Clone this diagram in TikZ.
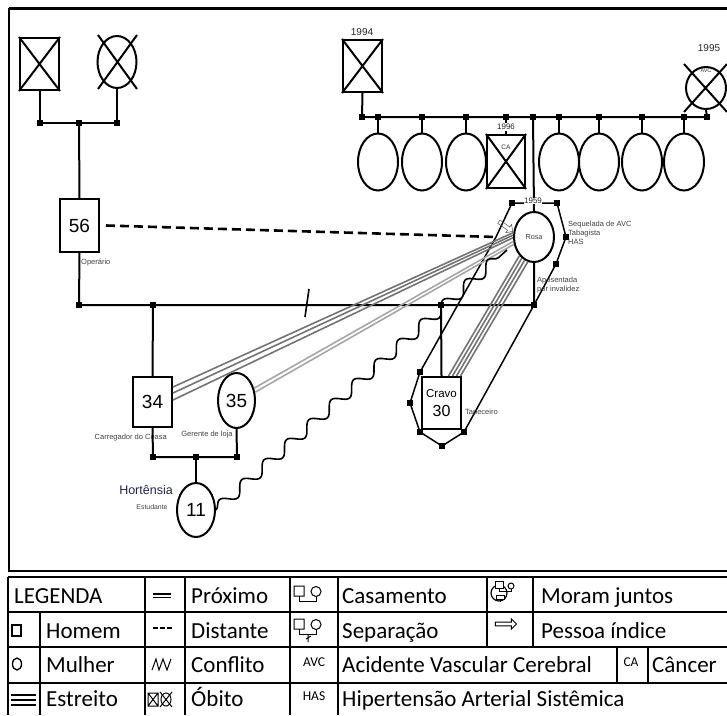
\documentclass[tikz,border=0pt]{standalone}
\usepackage{fontspec}
\setmainfont{Carlito}
\newfontfamily\arialf{Liberation Sans}
\usetikzlibrary{shapes.geometric,shapes.arrows,decorations.pathmorphing}
\begin{document}
\begin{tikzpicture}[x=1pt,y=-1pt,
  ln/.style={line width=2pt},
  male/.style={draw,line width=2pt,minimum width=39pt,minimum height=52pt,inner sep=0pt,font=\arialf\fontsize{19}{19}\selectfont},
  female/.style={draw,ellipse,line width=2pt,minimum width=39pt,minimum height=55pt,inner sep=0pt,font=\arialf\fontsize{19}{19}\selectfont},
  jdot/.style={fill,minimum size=6pt,inner sep=0pt},
  vdot/.style={fill,minimum size=6pt,inner sep=0pt},
  small/.style={font=\arialf\fontsize{7.5}{9}\selectfont,text=black!75,inner sep=0pt},
  yr/.style={font=\arialf\fontsize{10}{10}\selectfont,text=black!85,inner sep=1pt},
  legtxt/.style={font=\fontsize{23}{23}\selectfont,anchor=base west,inner sep=0pt},
  legsm/.style={font=\fontsize{13.5}{13.5}\selectfont,inner sep=0pt},
  tline/.style={line width=1.2pt},
  closed/.style={line width=1.6pt,draw=black!55},
  closel/.style={line width=1.6pt,draw=black!35},
  house/.style={line width=1.5pt},
]
\useasboundingbox (0,0) rectangle (727,715);
% frame
\draw[line width=3pt] (9,8) -- (727,8);
\draw[line width=1.8pt] (9,8) -- (9,571) -- (727,571);

% ---------- left grandparents
\node[male] (gf1) at (39.5,64) {};
\draw[ln] (gf1.north west) -- (gf1.south east) (gf1.north east) -- (gf1.south west);
\node[female,minimum height=52pt] (gm1) at (117,62) {};
\draw[ln] ([shift={(-19,-27)}]gm1.center) -- ([shift={(20,27)}]gm1.center)
          ([shift={(20,-27)}]gm1.center) -- ([shift={(-19,27)}]gm1.center);
\node[jdot] (m1a) at (39.5,123) {};
\node[jdot] (m1c) at (79,123) {};
\node[jdot] (m1b) at (117,123) {};
\draw[ln] (gf1.south) -- (m1a.center) -- (m1b.center) -- (gm1.south);

\node[male,minimum height=53pt] (p56) at (79.5,225.5) {56};
\draw[ln] (m1c.center) -- (p56.north);
\node[small,anchor=west] (l56) at (81,263) {Operário};

% ---------- right grandparents
\node[male] (gf2) at (362.5,66) {};
\draw[ln] (gf2.north west) -- (gf2.south east) (gf2.north east) -- (gf2.south west);
\node[yr] (y1994) at (362,32) {1994};
\node[female,minimum width=40pt,minimum height=42pt] (gm2) at (706,88) {};
\draw[ln] ([shift={(-22,-24)}]gm2.center) -- ([shift={(21,24)}]gm2.center)
          ([shift={(21,-24)}]gm2.center) -- ([shift={(-22,24)}]gm2.center);
\node[yr] (y1995) at (709,48) {1995};
\node[font=\arialf\fontsize{5.5}{6}\selectfont,text=black!80,inner sep=0pt] (avcg) at (706,71) {AVC};

\node[jdot] (m2a) at (362,117) {};
\node[jdot] (m2b) at (707,117) {};
\draw[ln] (gf2.south) -- (m2a.center) -- (m2b.center) -- (gm2.south);

% siblings
\node[female,minimum width=40pt,minimum height=57pt] (c1) at (378,162) {};
\node[female,minimum width=40pt,minimum height=57pt] (c2) at (422,162) {};
\node[female,minimum width=40pt,minimum height=57pt] (c3) at (466,162) {};
\node[male,minimum width=38pt,minimum height=53pt] (c4) at (506,161.5) {};
\node[female,minimum width=40pt,minimum height=57pt] (c5) at (559,162) {};
\node[female,minimum width=40pt,minimum height=57pt] (c6) at (599,162) {};
\node[female,minimum width=40pt,minimum height=57pt] (c7) at (642,162) {};
\node[female,minimum width=40pt,minimum height=57pt] (c8) at (684,162) {};
\draw[ln] (c4.north west) -- (c4.south east) (c4.north east) -- (c4.south west);
\foreach \c/\x in {c1/378,c2/422,c3/466,c4/506,c5/559,c6/599,c7/642,c8/684}{
  \node[jdot] (d\c) at (\x,117) {};
  \draw[ln] (d\c.center) -- (\c.north);
}
\node[yr,fill=white,font=\arialf\fontsize{8}{8}\selectfont] (y1996) at (506,127) {1996};
\node[font=\arialf\fontsize{6.5}{7}\selectfont,text=black!80,inner sep=0pt,fill=white] (cag) at (506,147) {CA};

% Rosa
\node[female,minimum width=40pt,minimum height=50pt,font=\arialf\fontsize{7.2}{8}\selectfont,text=black!75] (rosa) at (534,237) {Rosa};
\node[jdot] (dros) at (533,117) {};
\draw[ln] (dros.center) -- (rosa.north);

% household polygon
\coordinate (hv1) at (512,203);
\coordinate (hv2) at (557,203);
\coordinate (hv3) at (566,237);
\coordinate (hv4) at (556,264);
\coordinate (hv5) at (534,305);
\coordinate (hv6) at (464,432);
\coordinate (hv7) at (442,446);
\coordinate (hv8) at (420,432);
\coordinate (hv9) at (410,403);
\coordinate (hv10) at (420,372);
\coordinate (hv11) at (496,237);
\draw[house] (hv1) -- (hv2) -- (hv3) -- (hv4) -- (hv5) -- (hv6) -- (hv7) -- (hv8) -- (hv9) -- (hv10) -- (hv11) -- cycle;
\foreach \v in {hv1,hv2,hv3,hv4,hv6,hv7,hv8,hv9,hv10}{
  \node[vdot] (s\v) at (\v) {};
}
\node[yr,fill=white,font=\arialf\fontsize{8}{8}\selectfont,inner sep=0.5pt] (y1959) at (533,201) {1959};

\node[small,anchor=west,align=left] (lros) at (568,233) {Sequelada de AVC\\Tabagista\\HAS};
\node[small,anchor=west,align=left] (lapo) at (537,285) {Aposentada\\por invalidez};

% marriage 56 - Rosa
\node[jdot] (m3a) at (79,305) {};
\node[jdot] (m3c) at (153,305) {};
\node[jdot] (m3d) at (441,305) {};
\node[jdot] (m3b) at (534,305) {};
\draw[ln] (p56.south) -- (m3a.center) -- (m3b.center) -- (rosa.south);
\coordinate (sl1) at (309,289);
\coordinate (sl2) at (305,317);
\draw[line width=1.6pt] (sl1) -- (sl2);

% children
\node[male,minimum height=50pt] (s34) at (152.5,402) {34};
\node[female,minimum width=37pt,minimum height=55pt] (d35) at (236.5,400.5) {35};
\node[small,anchor=east] (l34) at (167,438) {Carregador do Ceasa};
\node[small] (l35) at (207,435) {Gerente de loja};
\draw[ln] (m3c.center) -- (s34.north);

\node[male,minimum height=52pt,align=center,font=\arialf\fontsize{16}{19}\selectfont] (cravo) at (441.5,403) {{\fontsize{11.5}{12}\selectfont Cravo}\\30};
\draw[ln] (m3d.center) -- (cravo.north);
\node[small,anchor=west] (lcra) at (465,413) {Tapeceiro};

\node[jdot] (m4a) at (153,457) {};
\node[jdot] (m4c) at (196,457) {};
\node[jdot] (m4b) at (237,457) {};
\draw[ln] (s34.south) -- (m4a.center) -- (m4b.center) -- (d35.south);
\node[female,minimum width=38pt,minimum height=54pt] (h11) at (196,510) {11};
\draw[ln] (m4c.center) -- (h11.north);
\node[font=\arialf\fontsize{12.5}{13}\selectfont,text={rgb,255:red,35;green,35;blue,80},inner sep=0pt] (lhor) at (146,490) {Hortênsia};
\node[small,font=\arialf\fontsize{6.9}{8}\selectfont] (lest) at (152,507) {Estudante};

% distant
\draw[line width=2.6pt,dash pattern=on 9pt off 5pt] ([xshift=6pt]p56.east) -- (hv11);

% close relations
\draw[closed] ([yshift=15pt]s34.east) -- (rosa.168);
\draw[closed] ([yshift=9pt]s34.east) -- (rosa.175);
\draw[closed] ([yshift=2pt]s34.east) -- (rosa.182);
\draw[closel] (d35.35) -- (rosa.192);
\draw[closel] (d35.24) -- (rosa.200);
\draw[closed] ([xshift=7pt]cravo.north) -- (rosa.232);
\draw[closed] ([xshift=11pt]cravo.north) -- (rosa.240);
\draw[closed] ([xshift=15pt]cravo.north) -- (rosa.248);
\draw[closed] ([xshift=19pt]cravo.north) -- (rosa.256);

% conflict
\coordinate (wend) at (507,250);
\draw[line width=1.6pt,decorate,decoration={snake,segment length=30pt,amplitude=5.5pt}] (h11.east) -- (wend);

% index person arrow
\node[single arrow,draw=black!60,line width=0.6pt,minimum height=17pt,minimum width=10pt,single arrow head extend=2pt,inner sep=1pt,rotate=-35] (idx) at (505,226) {};

% ---------- legend table
\draw[tline] (8,577) -- (727,577);
\draw[tline] (8,612) -- (727,612);
\draw[tline] (8,647) -- (727,647);
\draw[tline] (8,683) -- (727,683);
\draw[tline] (8,577) -- (8,715);
\draw[tline] (40,612) -- (40,715);
\foreach \x in {145,185,290,338}{ \draw[tline] (\x,577) -- (\x,715); }
\foreach \x in {487,533}{ \draw[tline] (\x,577) -- (\x,647); }
\foreach \x in {617,648}{ \draw[tline] (\x,647) -- (\x,683); }

\node[legtxt] (tleg) at (14,603) {LEGENDA};
\node[legtxt] (thom) at (46,638) {Homem};
\node[legtxt] (tmul) at (46,672) {Mulher};
\node[legtxt] (test) at (46,706) {Estreito};
\node[legtxt] (tpro) at (191,603) {Próximo};
\node[legtxt] (tdis) at (191,638) {Distante};
\node[legtxt] (tcon) at (191,672) {Conflito};
\node[legtxt] (tobi) at (191,706) {Óbito};
\node[legtxt] (tcas) at (342,603) {Casamento};
\node[legtxt] (tsep) at (342,638) {Separação};
\node[legtxt] (tavc) at (342,672) {Acidente Vascular Cerebral};
\node[legtxt] (thas) at (342,706) {Hipertensão Arterial Sistêmica};
\node[legtxt] (tmor) at (541,603) {Moram juntos};
\node[legtxt] (tpes) at (541,638) {Pessoa índice};
\node[legtxt] (tcan) at (652,672) {Câncer};
\node[legsm,anchor=base] (savc) at (314,666) {AVC};
\node[legsm,anchor=base] (shas) at (314,700) {HAS};
\node[legsm,anchor=base] (sca) at (631,666) {CA};

% legend symbols
\draw[line width=1.3pt] (12,625) rectangle (21,636);
\draw[line width=1.3pt] (17,664) ellipse [x radius=4.5, y radius=6];
\draw[line width=1.4pt] (11,695) -- (36,695) (11,700) -- (36,700) (11,705) -- (36,705);
\draw[line width=1.6pt] (153,594) -- (171,594) (153,597.5) -- (171,597.5);
\draw[line width=1.3pt,dash pattern=on 4.5pt off 2.5pt] (153,628) -- (172,628);
\draw[line width=1pt] (152,670) -- (156,659) -- (159,670) -- (163,659) -- (167,670) -- (171,659);
\draw[line width=1pt] (148,693) rectangle (158,706) (148,693) -- (158,706) (158,693) -- (148,706);
\draw[line width=1pt] (166,699.5) ellipse [x radius=5, y radius=6.5];
\draw[line width=1pt] (160,692) -- (172,707) (172,692) -- (160,707);
% casamento
\draw[line width=1pt] (294,586) rectangle (304,596) (316,591.5) circle [radius=5];
\draw[line width=1pt] (299,596) -- (299,601) -- (316,601) -- (316,596.5);
% separacao
\draw[line width=1pt] (294,619) rectangle (304,629) (316,624.5) circle [radius=5];
\draw[line width=1pt] (299,629) -- (299,634) -- (316,634) -- (316,629.5);
\draw[line width=1pt] (308,634) -- (308,642) (306,639) -- (311,636);
% moram juntos
\draw[line width=1.2pt] (499,593) circle [radius=8];
\draw[line width=1pt,fill=white] (495,581) rectangle (503,588);
\draw[line width=1pt] (499,588) -- (499,591) -- (511,591) -- (511,589);
\draw[line width=1pt] (511,586) circle [radius=3];
\draw[line width=1pt,fill=white] (496,595) rectangle (504,599);
\draw[line width=1pt] (500,599) -- (500,602);
% pessoa indice
\node[single arrow,draw,line width=1pt,minimum height=21pt,minimum width=10pt,single arrow head extend=2pt,inner sep=0.8pt] (parr) at (505,624) {};
\end{tikzpicture}
\end{document}
